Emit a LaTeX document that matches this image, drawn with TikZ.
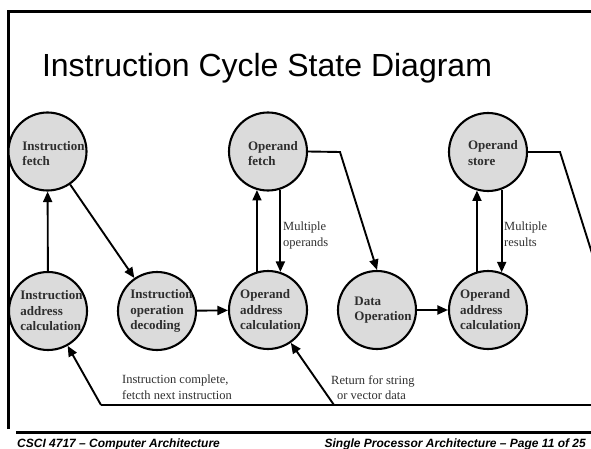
\documentclass[tikz,border=0pt]{standalone}
\usepackage{fontspec}
\setmainfont{Liberation Serif}
\newfontfamily\headfont{Liberation Sans}
\usetikzlibrary{arrows.meta}
\definecolor{statefill}{gray}{0.86}
\definecolor{inktext}{gray}{0.18}
\begin{document}
\begin{tikzpicture}[x=1pt,y=-1pt,
  state/.style={circle, draw, line width=2.1pt, fill=statefill, minimum size=78pt, inner sep=0pt},
  statetext/.style={font=\bfseries\fontsize{13}{15.5}\selectfont, align=left, text=inktext, inner sep=0pt},
  link/.style={line width=1.9pt},
  arr/.style={line width=1.9pt, -{Triangle[length=10.5pt,width=9pt]}},
  note/.style={font=\fontsize{12.5}{15.5}\selectfont, align=left, text=inktext, anchor=north west, inner sep=0pt},
  footer/.style={font=\headfont\bfseries\itshape\fontsize{12}{14}\selectfont, inner sep=0pt}]
\useasboundingbox (0,0) rectangle (591,449);
\clip (0,0) rectangle (591,449);

% slide frame and footer rule
\draw[line width=2.5pt] (8.7,429) -- (8.7,11.3) -- (600,11.3);
\draw[line width=3pt] (16,432.5) -- (600,432.5);

% title
\node[font=\headfont\fontsize{32}{38}\selectfont, anchor=base, inner sep=0pt] (title) at (267,77) {Instruction Cycle State Diagram};

% states
\node[state] (ifetch) at (47.5,151.5) {};
\node[state] (ofetch) at (268,151.5) {};
\node[state] (ostore) at (488,152) {};
\node[state] (iac)    at (48,311) {};
\node[state] (iod)    at (157,311) {};
\node[state] (oac)    at (268,310) {};
\node[state] (dop)    at (377,310) {};
\node[state] (oac2)   at (488,310) {};

\node[statetext, xshift=6pt,  yshift=-2pt] (ifetch-t) at (ifetch) {Instruction\\fetch};
\node[statetext, xshift=5pt,  yshift=-2pt] (ofetch-t) at (ofetch) {Operand\\fetch};
\node[statetext, xshift=5pt,  yshift=-1pt] (ostore-t) at (ostore) {Operand\\store};
\node[statetext, xshift=3.5pt] (iac-t)  at (iac)  {Instruction\\address\\calculation};
\node[statetext, xshift=4.5pt] (iod-t)  at (iod)  {Instruction\\operation\\decoding};
\node[statetext, xshift=2.5pt] (oac-t)  at (oac)  {Operand\\address\\calculation};
\node[statetext, xshift=6pt]   (dop-t)  at (dop)  {Data\\Operation};
\node[statetext, xshift=2.5pt] (oac2-t) at (oac2) {Operand\\address\\calculation};

% transitions
\draw[arr] (iac) -- (ifetch);
\draw[arr] (ifetch) -- (iod);
\draw[arr] (iod) -- (oac);
\draw[arr] (oac.106) -- (ofetch.254);
\draw[arr] (ofetch.288) -- (oac.72);
\draw[arr] (dop) -- (oac2);
\draw[arr] (oac2.106) -- (ostore.254);
\draw[arr] (ostore.290) -- (oac2.70);

\coordinate (bendA) at (340,152);
\draw[arr] (ofetch.east) -- (bendA) -- (dop.north);

% return paths
\coordinate (bendB) at (560,152);
\coordinate (farR)  at (640,405);
\coordinate (retB)  at (334,405);
\coordinate (retA)  at (101,405);
\draw[link] (ostore.east) -- (bendB) -- (farR) -- (retA);
\draw[arr] (retA) -- (iac);
\draw[arr] (retB) -- (oac);

% labels
\node[note] (mops) at (283,222) {Multiple\\operands};
\node[note] (mres) at (504,222) {Multiple\\results};
\node[note] (ldone) at (122,375) {Instruction complete,\\fetcth next instruction};
\node[note] (lvec)  at (331,375) {Return for string\\\hspace*{6pt}or vector data};

% footer
\node[footer, anchor=base west] (foot-l) at (17,447) {CSCI 4717 – Computer Architecture};
\node[footer, anchor=base east] (foot-r) at (586,447) {Single Processor Architecture – Page 11 of 25};
\end{tikzpicture}
\end{document}
